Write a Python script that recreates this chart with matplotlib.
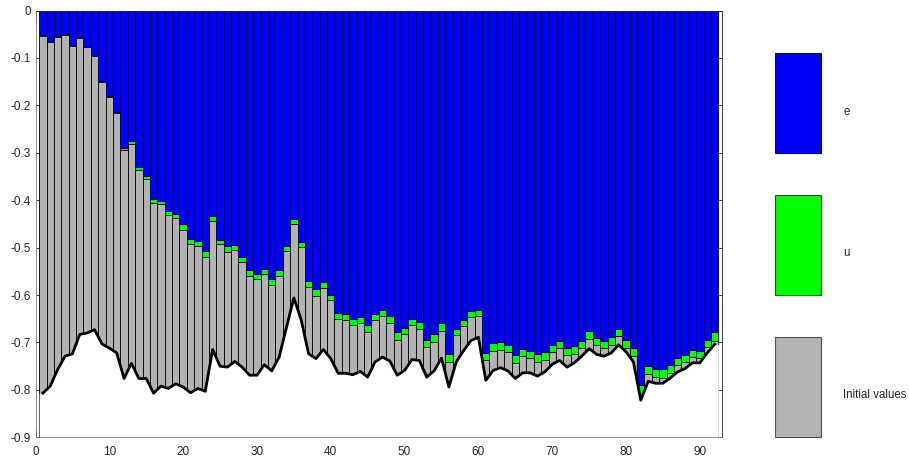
import numpy as np
import matplotlib
matplotlib.use('Agg')
import matplotlib.pyplot as plt
from matplotlib.patches import Rectangle

plt.rcParams['font.family'] = ['Liberation Sans', 'DejaVu Sans']

# bar levels (negative, stacked downward from 0)
# e: blue from 0 down to e_level, u: green from e_level to u_level,
# initial values: gray from u_level down to the initial curve
e_level = [-0.051, -0.064, -0.054, -0.050, -0.072, -0.055, -0.076, -0.095, -0.149, -0.180,
           -0.213, -0.289, -0.276, -0.330, -0.349, -0.398, -0.401, -0.423, -0.429, -0.451,
           -0.481, -0.486, -0.507, -0.434, -0.483, -0.497, -0.494, -0.520, -0.547, -0.556,
           -0.545, -0.566, -0.547, -0.497, -0.439, -0.488, -0.570, -0.588, -0.573, -0.599,
           -0.638, -0.641, -0.651, -0.646, -0.664, -0.641, -0.632, -0.645, -0.679, -0.669,
           -0.651, -0.657, -0.694, -0.682, -0.660, -0.724, -0.671, -0.652, -0.633, -0.632,
           -0.722, -0.701, -0.699, -0.706, -0.727, -0.714, -0.717, -0.725, -0.720, -0.706,
           -0.696, -0.711, -0.708, -0.696, -0.676, -0.691, -0.696, -0.689, -0.671, -0.694,
           -0.712, -0.789, -0.750, -0.755, -0.757, -0.747, -0.733, -0.726, -0.715, -0.717,
           -0.694, -0.679]
u_level = [-0.053, -0.066, -0.055, -0.052, -0.074, -0.057, -0.077, -0.097, -0.151, -0.183,
           -0.216, -0.295, -0.281, -0.337, -0.356, -0.406, -0.409, -0.432, -0.438, -0.462,
           -0.492, -0.496, -0.519, -0.443, -0.493, -0.509, -0.504, -0.531, -0.559, -0.567,
           -0.556, -0.578, -0.559, -0.508, -0.450, -0.499, -0.583, -0.601, -0.585, -0.611,
           -0.651, -0.653, -0.664, -0.659, -0.678, -0.653, -0.645, -0.659, -0.694, -0.683,
           -0.664, -0.671, -0.709, -0.698, -0.675, -0.741, -0.685, -0.665, -0.646, -0.644,
           -0.738, -0.717, -0.715, -0.721, -0.743, -0.729, -0.732, -0.741, -0.736, -0.721,
           -0.711, -0.727, -0.724, -0.711, -0.692, -0.706, -0.711, -0.705, -0.686, -0.711,
           -0.728, -0.807, -0.766, -0.772, -0.774, -0.764, -0.748, -0.742, -0.731, -0.732,
           -0.710, -0.696]
initial = [-0.807, -0.792, -0.757, -0.729, -0.724, -0.683, -0.680, -0.673, -0.703, -0.712,
           -0.722, -0.776, -0.744, -0.776, -0.776, -0.807, -0.792, -0.797, -0.787, -0.794,
           -0.806, -0.797, -0.803, -0.715, -0.750, -0.752, -0.740, -0.752, -0.769, -0.769,
           -0.747, -0.760, -0.731, -0.668, -0.606, -0.653, -0.724, -0.734, -0.715, -0.734,
           -0.765, -0.765, -0.768, -0.761, -0.773, -0.741, -0.731, -0.739, -0.769, -0.759,
           -0.736, -0.738, -0.773, -0.760, -0.733, -0.794, -0.741, -0.717, -0.696, -0.689,
           -0.780, -0.759, -0.753, -0.760, -0.776, -0.764, -0.764, -0.771, -0.762, -0.746,
           -0.738, -0.752, -0.743, -0.729, -0.713, -0.725, -0.729, -0.722, -0.705, -0.720,
           -0.741, -0.822, -0.782, -0.786, -0.786, -0.775, -0.762, -0.755, -0.743, -0.743,
           -0.722, -0.704]
labels = ['e', 'u', 'Initial values']
colors = ['#0000ff', '#00ff00', '#b3b3b3']

e_level = np.array(e_level)
u_level = np.array(u_level)
initial = np.array(initial)
x = np.arange(1, len(initial) + 1)
ymin = -0.9

fig = plt.figure(figsize=(9.09, 4.57), dpi=100)
ax = fig.add_axes([35.5 / 909, 19.7 / 457, 686.5 / 909, 426.8 / 457])

bar_kw = dict(width=1.0, edgecolor='black', linewidth=0.6, zorder=2)
ax.bar(x, e_level, bottom=0, color=colors[0], **bar_kw)
ax.bar(x, u_level - e_level, bottom=e_level, color=colors[1], **bar_kw)
ax.bar(x, ymin - u_level, bottom=u_level, color=colors[2], **bar_kw)

# white area under the initial values curve
xf = np.concatenate([[x[0] - 0.5], x, [x[-1] + 0.5]])
yf = np.concatenate([[initial[0]], initial, [initial[-1]]])
ax.fill_between(xf, yf, ymin, color='white', linewidth=0, zorder=3)
ax.plot(x, initial, color='black', linewidth=2.0, zorder=4)

ax.set_xlim(0, 93)
ax.set_ylim(ymin, 0)
ax.set_xticks(np.arange(0, 91, 10))
ax.set_yticks(np.arange(0, -0.91, -0.1))
ax.set_yticklabels(['0'] + ['%.1f' % v for v in np.arange(-0.1, -0.91, -0.1)])
ax.tick_params(direction='in', length=5, width=0.6, labelsize=8.5,
               colors='#262626', right=True, top=True)
ax.tick_params(axis='x', pad=6)
for s in ax.spines.values():
    s.set_color('#262626')
    s.set_linewidth(0.6)
    s.set_zorder(5)
ax.spines['left'].set_color('#808080')
ax.spines['bottom'].set_color('#808080')

# legend boxes on the right
box_top = [52.7, 195.0, 336.7]
text_y = [111.7, 252.7, 395.0]
edges = ['#101040', '#106010', '#505050']
for lab, c, ec, bt, ty in zip(labels, colors, edges, box_top, text_y):
    fig.add_artist(Rectangle((775 / 909, 1 - (bt + 100) / 457), 46 / 909, 100 / 457,
                             transform=fig.transFigure, facecolor=c,
                             edgecolor=ec, linewidth=0.8))
    fig.text(843 / 909, 1 - ty / 457, lab, fontsize=8.3, color='#262626',
             va='center', ha='left')

fig.savefig('out.png', dpi=100)
